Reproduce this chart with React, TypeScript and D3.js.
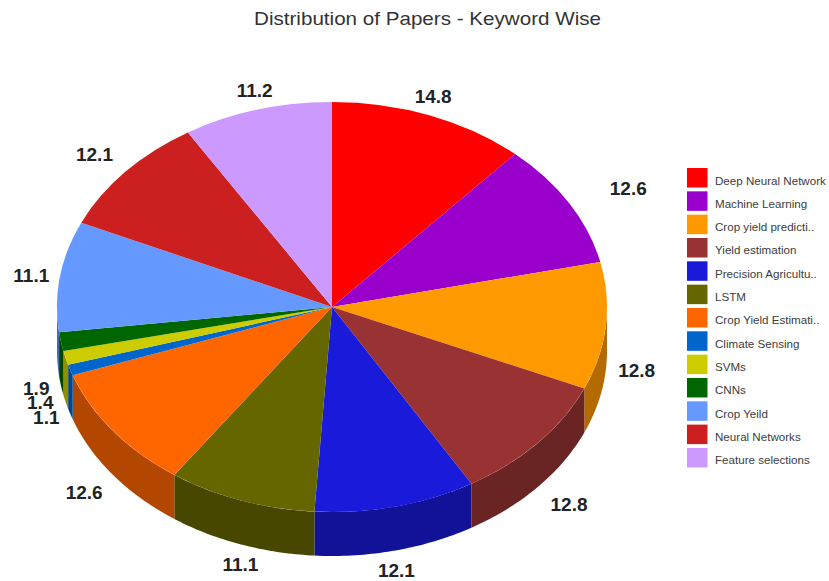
import React from "react";
import * as d3 from "d3";

const keywords = [
  "Deep Neural Network", "Machine Learning", "Crop yield predicti..", "Yield estimation",
  "Precision Agricultu..", "LSTM", "Crop Yield Estimati..", "Climate Sensing",
  "SVMs", "CNNs", "Crop Yeild", "Neural Networks", "Feature selections",
];
const shares = [14.8, 12.6, 12.8, 12.8, 12.1, 11.1, 12.6, 1.1, 1.4, 1.9, 11.1, 12.1, 11.2];
const sliceColors = [
  "#ff0000", "#9900cc", "#ff9900", "#993333", "#1a1adb", "#666600", "#ff6600",
  "#0066cc", "#cccc00", "#006600", "#6699ff", "#cc1f1f", "#cc99ff",
];
// Per-label shifts away from the default position around the rim.
const labelNudgeX = [-4, 42, 11, 16, -4, 6, -13, -5, -6, -5, -9, -16, 3];
const labelNudgeY = [0, -4, -2, 4, 1, 1, 5, -3, -4, -1, 2, -4, 0];

const width = 829;
const height = 581;
const cx = 332;
const cy = 307;
const rx = 275;
const ry = 205;
const depth = 44;
const labelGap = 20;
const legendX = 687;
const legendY = 168;
const legendStep = 23.33;

const pieSlices = d3.pie<number>().sort(null)(shares);
const topArc = d3.arc<d3.PieArcDatum<number>>().innerRadius(0).outerRadius(rx);

const rimX = (a: number) => cx + rx * Math.sin(a);
const rimY = (a: number) => cy - ry * Math.cos(a);

// Outline of the visible wall below one slice, limited to the front half of the disc.
function wallPath(start: number, end: number): string | null {
  const a0 = Math.max(start, Math.PI / 2);
  const a1 = Math.min(end, (3 * Math.PI) / 2);
  if (a1 <= a0) return null;
  const angles = d3.range(0, 41).map((i) => a0 + ((a1 - a0) * i) / 40);
  const upper = angles.map((a) => [rimX(a), rimY(a)] as [number, number]);
  const lower = angles.slice().reverse().map((a) => [rimX(a), rimY(a) + depth] as [number, number]);
  return d3.line()([...upper, ...lower]) + "Z";
}

function labelPosition(mid: number, i: number) {
  const c = Math.cos(mid);
  return {
    x: cx + (rx + labelGap) * Math.sin(mid) + labelNudgeX[i],
    y: cy - (ry + labelGap) * c + (c < 0 ? depth : 0) + labelNudgeY[i],
  };
}

export default function App() {
  const font = "'Liberation Sans', Arial, sans-serif";
  return (
    <svg
      width={width}
      height={height}
      viewBox={`0 0 ${width} ${height}`}
      style={{ position: "absolute", left: 0, top: 0, background: "#fff" }}
      fontFamily={font}
    >
      <text
        x={254}
        y={25}
        fontSize={19}
        fill="#333"
        textLength={347}
        lengthAdjust="spacingAndGlyphs"
      >
        Distribution of Papers - Keyword Wise
      </text>

      {pieSlices.map((s, i) => {
        const d = wallPath(s.startAngle, s.endAngle);
        return d ? <path key={i} d={d} fill={d3.rgb(sliceColors[i]).darker(1).formatHex()} /> : null;
      })}

      <g transform={`translate(${cx},${cy}) scale(1,${ry / rx})`}>
        {pieSlices.map((s, i) => (
          <path key={i} d={topArc(s) ?? ""} fill={sliceColors[i]} />
        ))}
      </g>

      {pieSlices.map((s, i) => {
        const p = labelPosition((s.startAngle + s.endAngle) / 2, i);
        return (
          <text
            key={i}
            x={p.x}
            y={p.y}
            textAnchor="middle"
            dominantBaseline="central"
            fontSize={19}
            fontWeight="bold"
            fill="#222"
          >
            {shares[i]}
          </text>
        );
      })}

      {keywords.map((k, i) => (
        <g key={k} transform={`translate(${legendX},${legendY + i * legendStep})`}>
          <rect width={20.5} height={19.5} fill={sliceColors[i]} />
          <text x={28} y={12} dominantBaseline="central" fontSize={11.6} fill="#3c3c3c">
            {k}
          </text>
        </g>
      ))}
    </svg>
  );
}
